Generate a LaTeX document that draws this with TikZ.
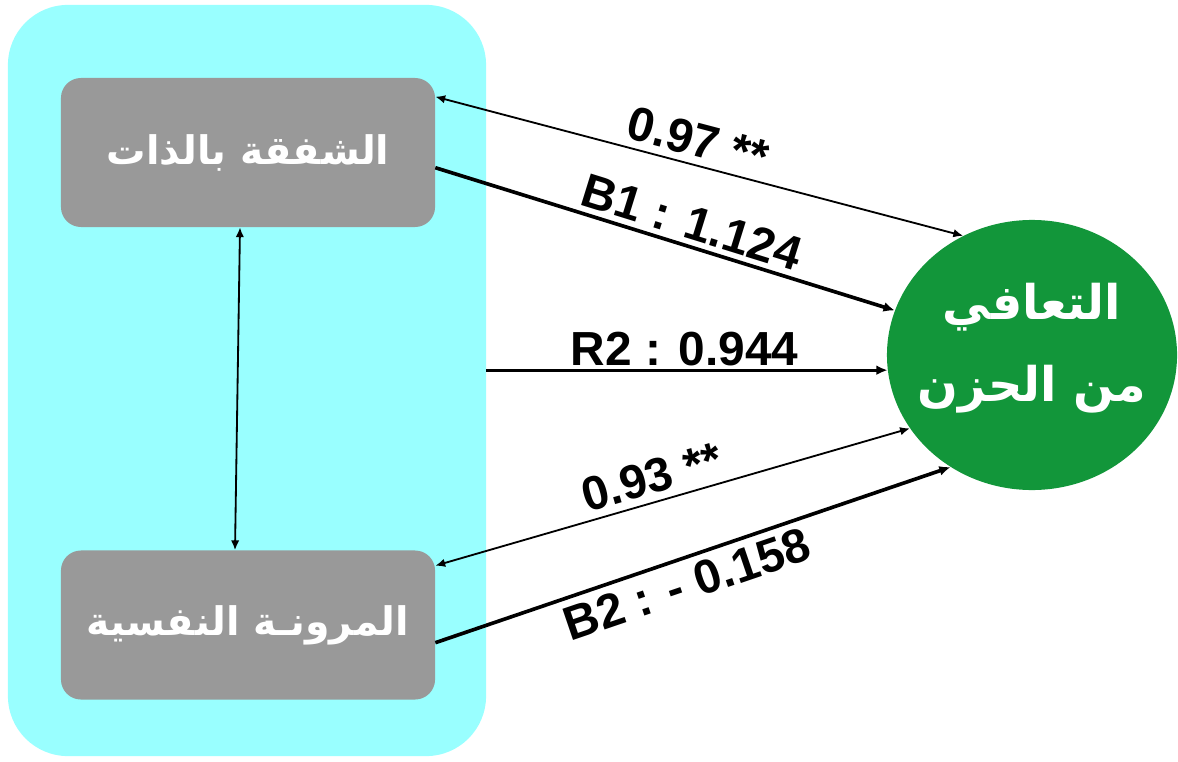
\documentclass[tikz,border=0pt]{standalone}
\usepackage{fontspec}
\setmainfont{Liberation Sans}
\newfontfamily\arabicfont[Script=Arabic]{DejaVu Sans}
\TeXXeTstate=1
\usetikzlibrary{arrows.meta,calc,shapes.geometric}
\definecolor{cyanbg}{RGB}{153,255,255}
\definecolor{boxgray}{RGB}{153,153,153}
\definecolor{circgreen}{RGB}{18,150,58}
\begin{document}
\begin{tikzpicture}[x=0.025cm,y=-0.025cm,
  grp/.style={rectangle, rounded corners=1.5cm, fill=cyanbg, minimum width=11.95cm, minimum height=18.775cm, inner sep=0pt},
  varbox/.style={rectangle, rounded corners=0.5cm, fill=boxgray, minimum width=9.35cm, minimum height=3.725cm, inner sep=0pt, text=white, font=\arabicfont\bfseries\fontsize{28}{34}\selectfont},
  outc/.style={ellipse, fill=circgreen, minimum width=7.25cm, minimum height=6.75cm, inner sep=0pt, text=white, align=center, font=\arabicfont\bfseries\fontsize{34}{58}\selectfont},
  thinarr/.style={line width=1.3pt, {Latex[length=7pt,width=6pt]}-{Latex[length=7pt,width=6pt]}},
  thickarr/.style={line width=2.6pt, -{Latex[length=8pt,width=7pt]}},
  lbl/.style={font=\bfseries\fontsize{34}{40}\selectfont, inner sep=0pt, sloped}
]
\useasboundingbox (0,0) rectangle (1178,762);
\node[grp] (grp) at (247,380.5) {};
\node[varbox] (top) at (248,152.5) {\raisebox{4pt}{\beginR الشفقة بالذات\endR}};
\node[varbox] (bot) at (248,625) {\beginR المرونـة النفسية\endR};
\node[outc] (rec) at (1032,355) {\makebox[0pt]{\raisebox{18pt}{\beginR التعافي\endR}}\\\makebox[0pt]{\raisebox{18pt}{\beginR من الحزن\endR}}};

\draw[thinarr] ($(top.south)+(-8,0)$) -- ($(bot.north)+(-13,0)$);

\draw[thinarr] ($(top.north east)+(0,19)$) -- node[lbl, pos=0.486, above=5pt] {0.97 **} (rec.120.9);
\draw[thickarr] ($(top.north east)+(0,90)$) -- node[lbl, pos=0.543, above=4pt] {B1 : 1.124} (rec.162.8);
\draw[thickarr, line width=2pt] (grp.east |- rec.186.7) -- node[lbl, pos=0.494, above=2pt] {R2 : 0.944} (rec.186.7);
\draw[thinarr] ($(bot.north east)+(0,15.5)$) -- node[lbl, pos=0.47, above=5pt] {0.93 **} (rec.211.6);
\draw[thickarr] ($(bot.north east)+(0,92.5)$) -- node[lbl, pos=0.472, below=5pt] {B2 : - 0.158} (rec.234.2);
\end{tikzpicture}
\end{document}
